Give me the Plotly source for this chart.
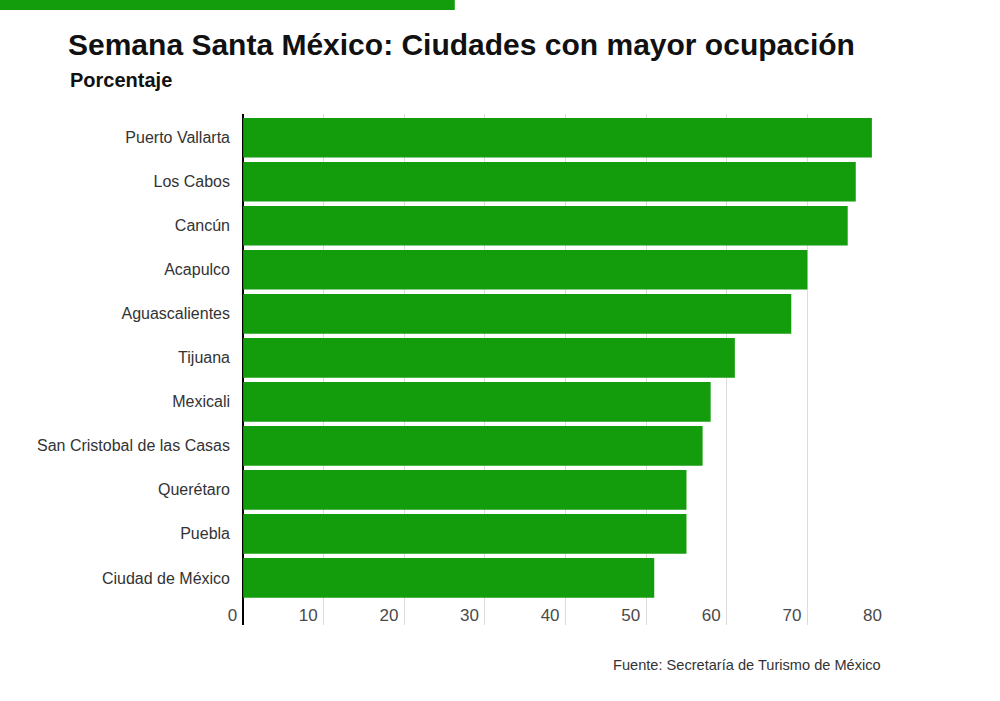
import plotly.graph_objects as go

cities = ["Puerto Vallarta", "Los Cabos", "Cancún", "Acapulco", "Aguascalientes",
          "Tijuana", "Mexicali", "San Cristobal de las Casas", "Querétaro",
          "Puebla", "Ciudad de México"]
ocupacion = [78, 76, 75, 70, 68, 61, 58, 57, 55, 55, 51]
x_ticks = [0, 10, 20, 30, 40, 50, 60, 70, 80]

title_text = "Semana Santa México: Ciudades con mayor ocupación"
subtitle_text = "Porcentaje"
source_text = "Fuente: Secretaría de Turismo de México"

GREEN = "#139c0c"
W, H = 1000, 701
X_MIN, X_MAX = -2.5, 80
ZERO_PX, R, T, B = 243.5, 888, 114, 625
scale = (R - ZERO_PX) / X_MAX
L = ZERO_PX + X_MIN * scale
pw, ph = R - L, B - T

def px(x):
    return (x - L) / pw

def py(y):
    return (B - y) / ph

fig = go.Figure(go.Bar(
    x=ocupacion, y=cities, orientation="h",
    marker=dict(color=GREEN, line=dict(width=0)),
    hoverinfo="x+y",
))

fig.update_layout(
    width=W, height=H, autosize=False,
    margin=dict(l=L, r=W - R, t=T, b=H - B, pad=0),
    paper_bgcolor="white", plot_bgcolor="white",
    bargap=0.10,
    showlegend=False,
    font=dict(family="Liberation Sans, Arial, sans-serif", color="#333"),
    title=dict(text="<b>" + title_text + "</b>", x=68 / W, xanchor="left",
               y=1 - 44 / H, yanchor="middle", xref="container", yref="container",
               font=dict(size=30, color="#111", family="Liberation Sans, Arial, sans-serif")),
    xaxis=dict(range=[X_MIN, X_MAX], tickvals=x_ticks, ticktext=[str(v) for v in x_ticks],
               showgrid=True, gridcolor="#dcdcdc", gridwidth=1,
               zeroline=True, zerolinecolor="black", zerolinewidth=2,
               showline=False, ticks="", ticklabelposition="inside left",
               ticklabelstandoff=-5, ticklabelshift=-6,
               tickfont=dict(size=17, color="#4a4a4a"), fixedrange=True),
    yaxis=dict(range=[11.07, -0.54], showgrid=False, zeroline=False,
               showline=False, ticks="", ticklabelstandoff=-8,
               tickfont=dict(size=16, color="#333"), fixedrange=True),
    shapes=[dict(type="rect", xref="paper", yref="paper",
                 x0=px(0), x1=px(455), y0=py(0), y1=py(10),
                 fillcolor=GREEN, line=dict(width=0), layer="above")],
    annotations=[
        dict(text="<b>" + subtitle_text + "</b>", xref="paper", yref="paper",
             x=px(68), y=py(80), xanchor="left", yanchor="middle", showarrow=False,
             font=dict(size=20, color="#111")),
        dict(text=source_text, xref="paper", yref="paper",
             x=px(883), y=py(665), xanchor="right", yanchor="middle", showarrow=False,
             font=dict(size=14.6, color="#333")),
    ],
)

fig.write_html("out.html", config={"displayModeBar": False},
               post_script="document.body.style.margin='0px';")
